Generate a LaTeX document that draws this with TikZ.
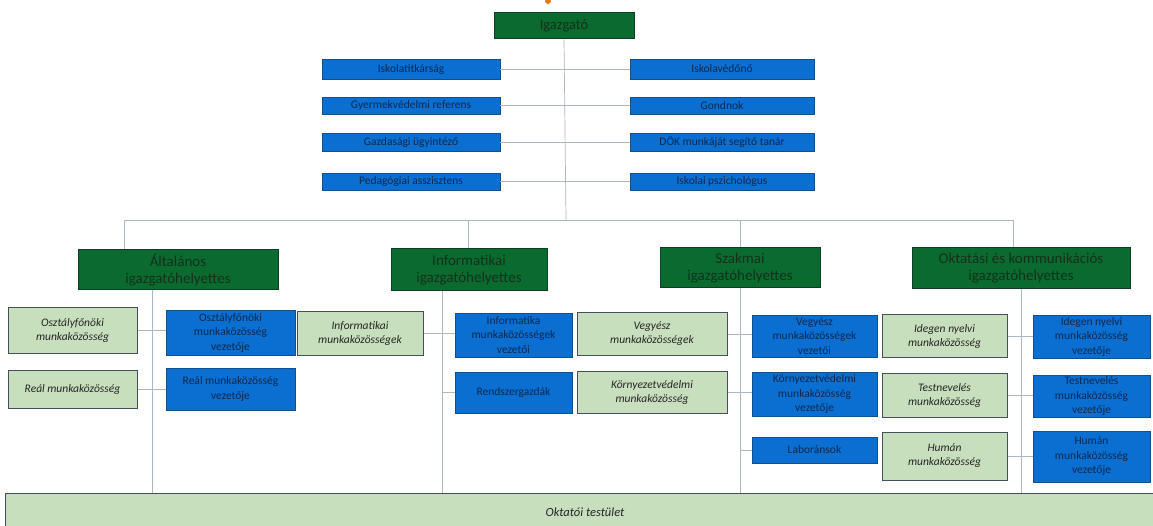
\documentclass[tikz,border=0pt]{standalone}
\usepackage{fontspec}
\setmainfont{Carlito}
\definecolor{dgreen}{HTML}{0B6B2E}
\definecolor{dgreenb}{HTML}{0E3B2A}
\definecolor{bblue}{HTML}{0A6FD0}
\definecolor{bblueb}{HTML}{114F8F}
\definecolor{lgreen}{HTML}{C7DFBC}
\definecolor{lgreenb}{HTML}{46505A}
\definecolor{lnk}{HTML}{AEB6BE}
\definecolor{txtg}{HTML}{14301E}
\definecolor{txtb}{HTML}{0B2950}
\definecolor{orng}{HTML}{E07A1F}
\newcommand\mybox[7]{\node[#1, minimum width={#5pt-#3pt}, minimum height={#6pt-#4pt}] (#2) at ({(#3+#5)/2},{(#4+#6)/2}) {#7};}
\tikzset{
  boss/.style={draw=dgreenb, fill=dgreen, line width=1pt, text=txtg, font=\fontsize{14.5}{16}\selectfont, inner sep=1pt, align=center},
  deputy/.style={draw=dgreenb, fill=dgreen, line width=1pt, text=txtg, font=\fontsize{15}{17}\selectfont, inner sep=1pt, align=center},
  staff/.style={draw=bblueb, fill=bblue, line width=0.8pt, text=txtb, font=\fontsize{11.5}{13}\selectfont, inner sep=1pt, align=center},
  leadbox/.style={draw=bblueb, fill=bblue, line width=0.8pt, text=txtb, font=\fontsize{11.5}{14.5}\selectfont, inner sep=0pt, align=center},
  unitbox/.style={draw=lgreenb, fill=lgreen, line width=1pt, text=black!85, font=\itshape\fontsize{11.5}{14}\selectfont, inner sep=1pt, align=center},
  link/.style={draw=lnk, line width=0.7pt}
}
\begin{document}
\begin{tikzpicture}[x=1pt,y=-1pt]
\useasboundingbox (0,0) rectangle (1153,526);
\clip (0,0) rectangle (1153,526);
\fill[white] (0,0) rectangle (1153,526);
% coordinates for the trunk lines
\coordinate (hub) at (566,220);
\coordinate (h1) at (124,220);
\coordinate (h2) at (468,220);
\coordinate (h3) at (740,220);
\coordinate (h4) at (1013,220);
\coordinate (v1) at (152,0);
\coordinate (v2) at (442,0);
\coordinate (v3) at (740,0);
\coordinate (v4) at (1021,0);
% top
\mybox{boss}{ig}{494}{13}{634}{39}{Igazgató}
\mybox{staff}{l1}{322}{59}{500}{79}{Iskolatitkárság}
\mybox{staff}{l2}{322}{97}{500}{114}{Gyermekvédelmi referens}
\mybox{staff}{l3}{322}{133}{500}{151}{Gazdasági ügyintéző}
\mybox{staff}{l4}{322}{173}{500}{190}{Pedagógiai asszisztens}
\mybox{staff}{r1}{630}{59}{814}{79}{Iskolavédőnő}
\mybox{staff}{r2}{630}{97}{814}{114}{Gondnok}
\mybox{staff}{r3}{630}{133}{814}{151}{DÖK munkáját segítő tanár}
\mybox{staff}{r4}{630}{173}{814}{190}{Iskolai pszichológus}
% deputies
\mybox{deputy}{d1}{78}{250}{278}{290}{Általános\\igazgatóhelyettes}
\mybox{deputy}{d2}{391}{249}{547}{291}{Informatikai\\igazgatóhelyettes}
\mybox{deputy}{d3}{660}{248}{820}{288}{Szakmai\\igazgatóhelyettes}
\mybox{deputy}{d4}{912}{248}{1130}{289}{Oktatási és kommunikációs\\igazgatóhelyettes}
% column 1
\mybox{unitbox}{g11}{8}{308}{137}{353}{Osztályfőnöki\\munkaközösség}
\mybox{leadbox}{b11}{166}{310}{295}{355}{Osztályfőnöki\\munkaközösség\\vezetője}
\mybox{unitbox}{g12}{8}{370}{137}{408}{Reál munkaközösség}
\mybox{leadbox}{b12}{166}{368}{295}{410}{Reál munkaközösség\\vezetője}
% column 2
\mybox{unitbox}{g21}{297}{312}{423}{355}{Informatikai\\munkaközösségek}
\mybox{leadbox}{b21}{455}{313}{572}{357}{Informatika\\munkaközösségek\\vezetői}
\mybox{leadbox}{b22}{455}{372}{572}{413}{Rendszergazdák}
% column 3
\mybox{unitbox}{g31}{577}{313}{727}{355}{Vegyész\\munkaközösségek}
\mybox{unitbox}{g32}{577}{371}{727}{413}{Környezetvédelmi\\munkaközösség}
\mybox{leadbox}{b31}{752}{315}{877}{357}{Vegyész\\munkaközösségek\\vezetői}
\mybox{leadbox}{b32}{752}{372}{877}{416}{Környezetvédelmi\\munkaközösség\\vezetője}
\mybox{leadbox}{b33}{752}{437}{877}{463}{Laboránsok}
% column 4
\mybox{unitbox}{g41}{882}{315}{1007}{357}{Idegen nyelvi\\munkaközösség}
\mybox{unitbox}{g42}{882}{373}{1007}{417}{Testnevelés\\munkaközösség}
\mybox{unitbox}{g43}{882}{432}{1007}{480}{Humán\\munkaközösség}
\mybox{leadbox}{b41}{1033}{315}{1150}{358}{Idegen nyelvi\\munkaközösség\\vezetője}
\mybox{leadbox}{b42}{1033}{375}{1150}{417}{Testnevelés\\munkaközösség\\vezetője}
\mybox{leadbox}{b43}{1033}{431}{1150}{482}{Humán\\munkaközösség\\vezetője}
% bottom
\mybox{unitbox}{ok}{5}{493}{1165}{531}{\fontsize{12.5}{14}\selectfont Oktatói testület}
% connectors
\draw[link] (ig.south) -- (hub);
\draw[link] (h1) -- (h4);
\draw[link] (l1.east) -- (r1.west);
\draw[link] (l2.east) -- (r2.west);
\draw[link] (l3.east) -- (r3.west);
\draw[link] (l4.east) -- (r4.west);
\draw[link] (h1) -- (h1 |- d1.north);
\draw[link] (h2) -- (h2 |- d2.north);
\draw[link] (h3) -- (h3 |- d3.north);
\draw[link] (h4) -- (h4 |- d4.north);
\draw[link] (v1 |- d1.south) -- (v1 |- ok.north);
\draw[link] (v2 |- d2.south) -- (v2 |- ok.north);
\draw[link] (v3 |- d3.south) -- (v3 |- ok.north);
\draw[link] (v4 |- d4.south) -- (v4 |- ok.north);
\draw[link] (g11.east) -- (b11.west |- g11.east);
\draw[link] (g12.east) -- (b12.west |- g12.east);
\draw[link] (g21.east) -- (b21.west |- g21.east);
\draw[link] (v2 |- b22.west) -- (b22.west);
\draw[link] (g31.east) -- (b31.west |- g31.east);
\draw[link] (g32.east) -- (b32.west |- g32.east);
\draw[link] (v3 |- b33.west) -- (b33.west);
\draw[link] (g41.east) -- (b41.west |- g41.east);
\draw[link] (g42.east) -- (b42.west |- g42.east);
\draw[link] (g43.east) -- (b43.west |- g43.east);
\fill[orng] (548,1) circle (3);
\end{tikzpicture}
\end{document}
